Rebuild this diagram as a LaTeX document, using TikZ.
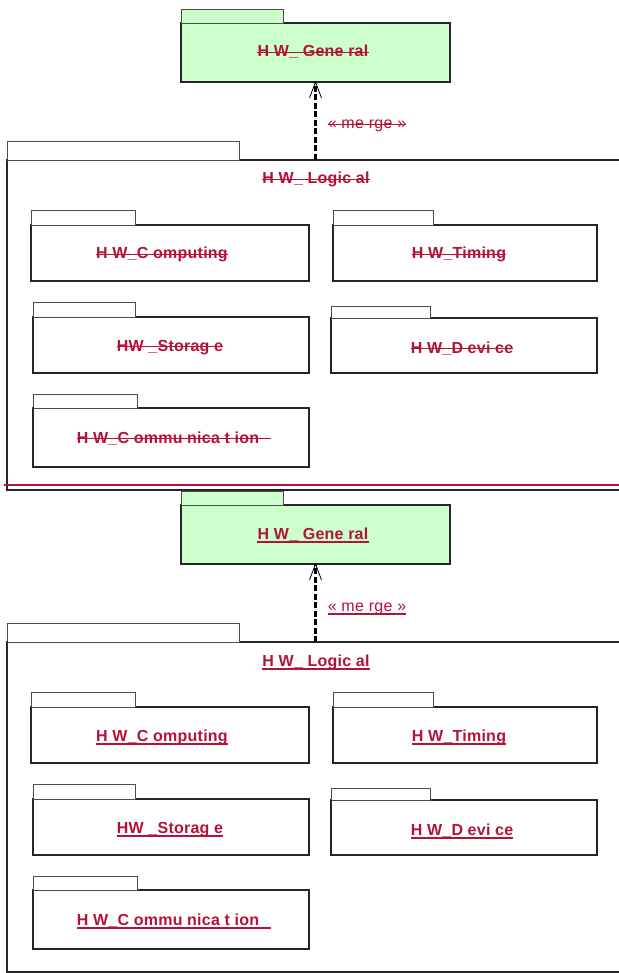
\documentclass[tikz,border=0pt]{standalone}
\usepackage{fontspec}
\newfontfamily\hwfont[LetterSpace=1.5]{Liberation Sans}
\newfontfamily\hwmfont[LetterSpace=2]{Liberation Sans}
\definecolor{hwred}{RGB}{181,18,58}
\definecolor{hwgreen}{RGB}{204,255,204}
\tikzset{
  pkgbody/.style={draw=black!85, line width=1.1pt, anchor=north west, inner sep=0pt, outer sep=0pt},
  pkgtab/.style={draw=black!70, line width=0.7pt},
  lbl/.style={text=hwred, font=\hwfont\fontsize{16}{19}\selectfont\bfseries, inner sep=0pt, anchor=base},
  mlbl/.style={text=hwred, font=\hwmfont\fontsize{16}{19}\selectfont, inner sep=0pt, anchor=base},
  mergeline/.style={draw=black, line width=3.6pt, dash pattern=on 6pt off 2.5pt},
  barbline/.style={draw=black, line width=0.8pt},
  sepline/.style={draw=hwred, line width=2pt},
  markline/.style={draw=hwred, line width=1.3pt},
}
\newcommand\markstrike[1]{\draw[markline] ([yshift=4.8pt]#1.base west) -- ([yshift=4.8pt]#1.base east);}
\newcommand\markunder[1]{\draw[markline] ([yshift=-3pt]#1.base west) -- ([yshift=-3pt]#1.base east);}
\newcommand\pkgbox[8]{% name, x, y, w, h, tabw, tabh, fill
  \node[pkgbody, fill=#8, minimum width=#4pt, minimum height=#5pt] (#1) at (#2,#3) {};
  \draw[pkgtab, fill=#8] (#1.north west) rectangle ++(#6,-#7);
}
\newcommand\drawhalf[3]{% prefix, y offset, marking
  \pkgbox{#1gen}{181}{23+#2}{269}{59}{102}{14}{hwgreen}
  \node[lbl] (#1genL) at (313,{57+#2}) {H W\_ Gene ral};
  #3{#1genL}
  \pkgbox{#1log}{7}{160+#2}{620}{330}{232}{19}{white}
  \node[lbl] (#1logL) at (316,{184+#2}) {H W\_ Logic al};
  #3{#1logL}
  \pkgbox{#1comp}{31}{225+#2}{278}{56}{104}{15}{white}
  \node[lbl] (#1compL) at (162,{259+#2}) {H W\_C omputing};
  #3{#1compL}
  \pkgbox{#1tim}{333}{225+#2}{264}{56}{100}{15}{white}
  \node[lbl] (#1timL) at (459,{259+#2}) {H W\_Timing};
  #3{#1timL}
  \pkgbox{#1sto}{33}{317+#2}{276}{56}{102}{15}{white}
  \node[lbl] (#1stoL) at (170,{351+#2}) {HW \_Storag e};
  #3{#1stoL}
  \pkgbox{#1dev}{331}{318+#2}{266}{55}{99}{12}{white}
  \node[lbl] (#1devL) at (462,{353+#2}) {H W\_D evi ce};
  #3{#1devL}
  \pkgbox{#1com}{33}{408+#2}{276}{59}{104}{14}{white}
  \node[lbl] (#1comL) at (174,{443+#2}) {H W\_C ommu nica t ion\kern12pt};
  #3{#1comL}
  \coordinate (#1lgtop) at (315.5,{160+#2});
  \draw[mergeline] (#1lgtop) -- (#1gen.south);
  \draw[barbline] (#1gen.south) ++(-6,16) -- (#1gen.south) -- ++(6,16);
  \node[mlbl] (#1mrg) at (367,{129+#2}) {« me rge »};
  #3{#1mrg}
}
\begin{document}
\begin{tikzpicture}[x=1pt,y=-1pt]
  \useasboundingbox (0,0) rectangle (618,973);
  \fill[white] (0,0) rectangle (618,973);
  \drawhalf{a}{0}{\markstrike}
  \coordinate (sepL) at (4,485);
  \coordinate (sepR) at (620,485);
  \draw[sepline] (sepL) -- (sepR);
  \drawhalf{b}{482}{\markunder}
\end{tikzpicture}
\end{document}
